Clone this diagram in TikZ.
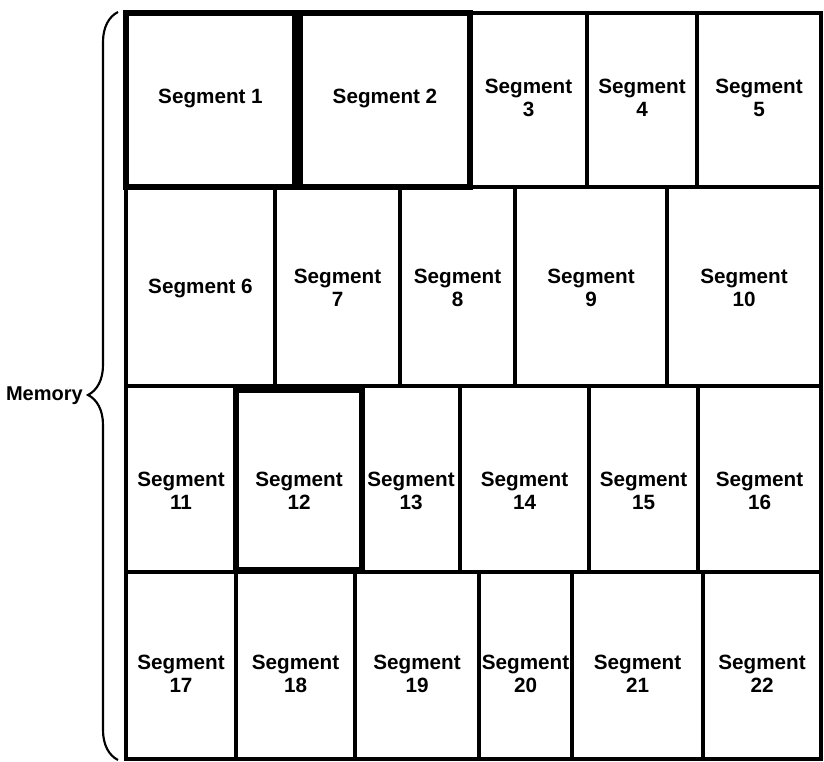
\documentclass[tikz,border=0pt]{standalone}
\usepackage{fontspec}
\setmainfont{Liberation Sans}
\usetikzlibrary{decorations.pathreplacing}
\newlength{\pxu}\setlength{\pxu}{0.75pt}

\begin{document}
\begin{tikzpicture}[
    x=0.75pt, y=-0.75pt,
    seg/.style={rectangle, draw, line width=2.3pt, inner sep=0pt, outer sep=0pt, anchor=north west},
    used/.style={seg, line width=4pt},
    r1/.style={seg, minimum height=174\pxu},
    r2/.style={seg, minimum height=199\pxu},
    r3/.style={seg, minimum height=186\pxu},
    r4/.style={seg, minimum height=187\pxu},
    txt/.style={align=center, font=\bfseries\fontsize{15.5}{17.5}\selectfont, inner sep=0pt, yshift=#1},
    txt/.default=0pt,
    memtxt/.style={font=\bfseries\fontsize{15}{17}\selectfont, inner sep=0pt},
    memorybrace/.style={decorate, decoration={brace, amplitude=22.5pt, aspect=0.488}, line width=1.6pt},
]
\useasboundingbox (0,0) rectangle (824,762);

% row 1
\node[r1, minimum width=117\pxu, label={[txt=2\pxu]center:{Segment\\3}}] (s3) at (470,13) {};
\node[r1, minimum width=110\pxu, label={[txt=2\pxu]center:{Segment\\4}}] (s4) at (587,13) {};
\node[r1, minimum width=124\pxu, label={[txt=2\pxu]center:{Segment\\5}}] (s5) at (697,13) {};

% row 2
\node[r2, minimum width=149\pxu, label={[txt=-1.5\pxu]center:{Segment 6}}] (s6) at (126,187) {};
\node[r2, minimum width=125\pxu, label={[txt=-1.5\pxu]center:{Segment\\7}}] (s7) at (275,187) {};
\node[r2, minimum width=115\pxu, label={[txt=-1.5\pxu]center:{Segment\\8}}] (s8) at (400,187) {};
\node[r2, minimum width=152\pxu, label={[txt=-1.5\pxu]center:{Segment\\9}}] (s9) at (515,187) {};
\node[r2, minimum width=154\pxu, label={[txt=-1.5\pxu]center:{Segment\\10}}] (s10) at (667,187) {};

% row 3
\node[r3, minimum width=110\pxu, label={[txt=-12\pxu]center:{Segment\\11}}] (s11) at (126,386) {};
\node[r3, minimum width=98\pxu, label={[txt=-12\pxu]center:{Segment\\13}}] (s13) at (362,386) {};
\node[r3, minimum width=129\pxu, label={[txt=-12\pxu]center:{Segment\\14}}] (s14) at (460,386) {};
\node[r3, minimum width=109\pxu, label={[txt=-12\pxu]center:{Segment\\15}}] (s15) at (589,386) {};
\node[r3, minimum width=123\pxu, label={[txt=-12\pxu]center:{Segment\\16}}] (s16) at (698,386) {};

% row 4
\node[r4, minimum width=110\pxu, label={[txt=-8.5\pxu]center:{Segment\\17}}] (s17) at (126,572) {};
\node[r4, minimum width=119\pxu, label={[txt=-8.5\pxu]center:{Segment\\18}}] (s18) at (236,572) {};
\node[r4, minimum width=124\pxu, label={[txt=-8.5\pxu]center:{Segment\\19}}] (s19) at (355,572) {};
\node[r4, minimum width=93\pxu, label={[txt=-8.5\pxu]center:{Segment\\20}}] (s20) at (479,572) {};
\node[r4, minimum width=131\pxu, label={[txt=-8.5\pxu]center:{Segment\\21}}] (s21) at (572,572) {};
\node[r4, minimum width=118\pxu, label={[txt=-8.5\pxu]center:{Segment\\22}}] (s22) at (703,572) {};

% heavy outlined segments
\node[used, minimum width=169\pxu, minimum height=174\pxu, label={[txt=2\pxu]center:{Segment 1}}] (s1) at (126,13) {};
\node[used, minimum width=170\pxu, minimum height=174\pxu, label={[txt=2\pxu]center:{Segment 2}}] (s2) at (300,13) {};
\node[used, minimum width=126\pxu, minimum height=180\pxu, label={[txt=-11\pxu]center:{Segment\\12}}] (s12) at (236,390) {};

% memory brace
\coordinate (btop) at (118,12);
\coordinate (bbot) at (118,760);
\draw[memorybrace] (bbot) -- (btop);
\node[memtxt, anchor=base east] (mem) at (83,401) {Memory};
\end{tikzpicture}
\end{document}
